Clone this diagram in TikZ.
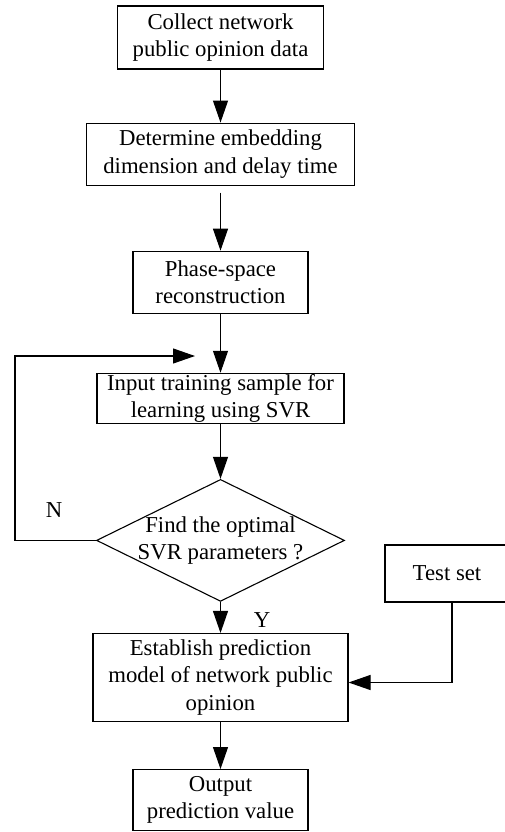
\documentclass[tikz,border=0pt]{standalone}
\usepackage{fontspec}
\setmainfont{Liberation Serif}
\usetikzlibrary{arrows.meta,positioning,shapes.geometric}

\begin{document}
\begin{tikzpicture}[x=1pt,y=1pt,>={Triangle[length=22pt,width=15pt]},line width=1.1pt,
		every node/.style={font=\fontsize{22.75}{27.5}\selectfont},
		proc/.style={draw,rectangle,align=center,inner sep=0pt},
		decision/.style={draw,diamond,aspect=2.03,inner sep=-3pt,minimum width=248pt,minimum height=122pt,align=center}]
	
	\useasboundingbox (0,0) rectangle (504,-832);
	
	\node[proc,minimum width=206pt,minimum height=63pt] (collect) at (220.5,-37.5) {Collect network\\public opinion data};
	\node[proc,minimum width=268pt,minimum height=62pt,below=53pt of collect] (embed) {Determine embedding\\dimension and delay time};
	\node[proc,minimum width=175pt,minimum height=62pt,below=65pt of embed] (phase) {Phase-space\\reconstruction};
	\node[proc,minimum width=247pt,minimum height=50pt,below=59pt of phase] (train) {Input training sample for\\learning using SVR};
	\node[decision,below=55pt of train] (optimal) {Find the optimal\\SVR parameters ?};
	\node[proc,minimum width=255pt,minimum height=88pt,below=31pt of optimal] (model) {Establish prediction\\model of network public\\opinion};
	\node[proc,minimum width=175pt,minimum height=61pt,below=47pt of model] (output) {Output\\prediction value};
	\node[proc,minimum width=136pt,minimum height=57pt] (test) at (453,-573.5) {\hspace*{-12pt}Test set};
	
	\node (no) at (54,-510) {N};
	\node (yes) at (262,-620) {Y};
	\coordinate (back) at (195,-356);
	
	\draw[->] (collect) -- (embed);
	\draw[->,shorten <=7pt] (embed) -- (phase);
	\draw[->] (phase) -- (train);
	\draw[->] (train) -- (optimal);
	\draw[->] (optimal) -- (model);
	\draw[->] (model) -- (output);
	\draw[->] (optimal.west) -- ++(-81,0) |- (back);
	\draw[->] ([xshift=-1pt]test.south) |- ([yshift=-5pt]model.east);
	
\end{tikzpicture}
\end{document}
